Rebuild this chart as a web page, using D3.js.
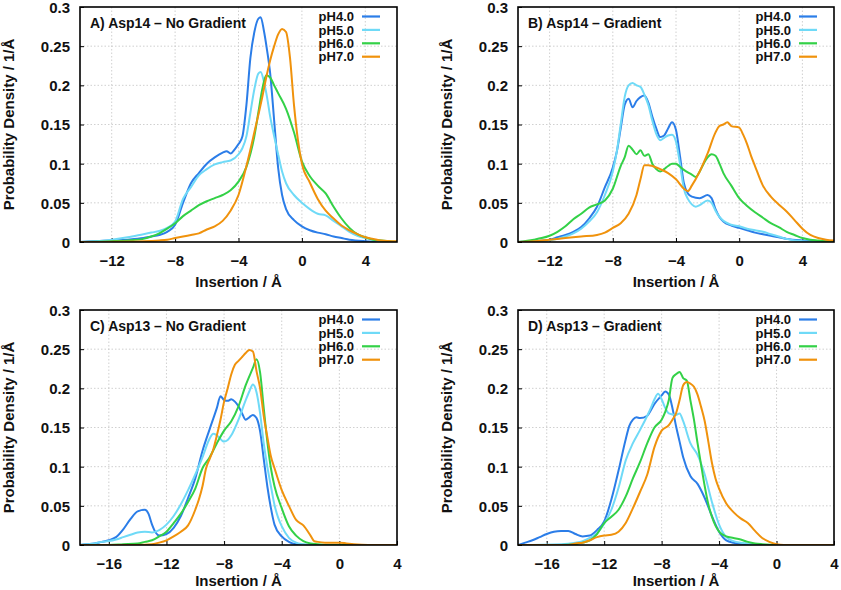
<!DOCTYPE html>
<html>
<head>
<meta charset="utf-8">
<script src="https://cdn.jsdelivr.net/npm/d3@7/dist/d3.min.js"></script>
<style>
  html, body { margin: 0; padding: 0; background: #fff; }
  svg { display: block; }
  text { font-family: "Liberation Sans", Arial, Helvetica, sans-serif; font-weight: bold; fill: #111; }
</style>
</head>
<body>
<svg id="chart" width="841" height="590"></svg>
<script>
// ---------------- DATA ----------------
const seriesNames = ["pH4.0", "pH5.0", "pH6.0", "pH7.0"];
const seriesColors = ["#2b7de8", "#6fdaf7", "#33d147", "#f0920c"];
const panelTitles = ["A) Asp14 \u2013 No Gradient", "B) Asp14 \u2013 Gradient", "C) Asp13 \u2013 No Gradient", "D) Asp13 \u2013 Gradient"];
const yTicks = [0, 0.05, 0.1, 0.15, 0.2, 0.25, 0.3];
const yTickLabels = ["0", "0.05", "0.1", "0.15", "0.2", "0.25", "0.3"];
const xTicksTop = [-12, -8, -4, 0, 4];
const xTicksBottom = [-16, -12, -8, -4, 0, 4];
const xDomainTop = [-14, 6];
const xDomainBottom = [-18, 4];
const yDomain = [0, 0.3];
const xLabel = "Insertion / \u00C5";
const yLabel = "Probability Density / 1/\u00C5";

// Panel A: Asp14 - No Gradient
const A_pH4 = [[-14,0],[-13,0.001],[-12,0.002],[-11,0.003],[-10,0.005],[-9.5,0.007],[-9,0.009],[-8.5,0.013],[-8,0.022],[-7.5,0.05],[-7,0.075],[-6.5,0.088],[-6,0.1],[-5.5,0.108],[-5,0.114],[-4.75,0.116],[-4.5,0.113],[-4.25,0.118],[-4,0.125],[-3.75,0.135],[-3.5,0.175],[-3.25,0.235],[-3,0.268],[-2.75,0.285],[-2.6,0.287],[-2.4,0.27],[-2.2,0.245],[-2,0.215],[-1.75,0.155],[-1.5,0.095],[-1.25,0.06],[-1,0.042],[-0.5,0.028],[0,0.02],[0.5,0.015],[1,0.012],[1.5,0.01],[2,0.007],[2.5,0.005],[3,0.003],[4,0.001],[5,0],[6,0]];
const A_pH5 = [[-14,0],[-13,0.001],[-12,0.003],[-11,0.006],[-10,0.01],[-9.5,0.012],[-9,0.014],[-8.5,0.018],[-8,0.026],[-7.5,0.055],[-7,0.07],[-6.5,0.085],[-6,0.093],[-5.5,0.099],[-5,0.102],[-4.5,0.104],[-4,0.112],[-3.75,0.12],[-3.5,0.135],[-3.25,0.165],[-3,0.195],[-2.75,0.215],[-2.6,0.217],[-2.4,0.205],[-2.2,0.185],[-2,0.16],[-1.75,0.135],[-1.5,0.112],[-1.25,0.09],[-1,0.075],[-0.5,0.06],[0,0.05],[0.5,0.042],[1,0.036],[1.5,0.034],[2,0.027],[2.5,0.02],[3,0.013],[3.5,0.008],[4,0.005],[5,0.001],[6,0]];
const A_pH6 = [[-14,0],[-12,0.001],[-11,0.002],[-10,0.004],[-9.5,0.007],[-9,0.011],[-8.5,0.017],[-8,0.024],[-7.5,0.033],[-7,0.04],[-6.5,0.047],[-6,0.052],[-5.5,0.056],[-5,0.06],[-4.5,0.066],[-4,0.077],[-3.5,0.096],[-3,0.135],[-2.75,0.165],[-2.5,0.195],[-2.25,0.213],[-2,0.21],[-1.75,0.2],[-1.5,0.19],[-1,0.17],[-0.5,0.14],[0,0.103],[0.5,0.084],[1,0.072],[1.5,0.062],[2,0.045],[2.5,0.03],[3,0.018],[3.5,0.01],[4,0.006],[4.5,0.003],[5,0.002],[6,0]];
const A_pH7 = [[-14,0],[-10,0.001],[-9,0.002],[-8.5,0.003],[-8,0.005],[-7.5,0.007],[-7,0.009],[-6.5,0.011],[-6,0.016],[-5.5,0.02],[-5,0.027],[-4.5,0.04],[-4,0.06],[-3.5,0.097],[-3,0.14],[-2.5,0.185],[-2.25,0.21],[-2,0.232],[-1.75,0.25],[-1.5,0.265],[-1.25,0.272],[-1,0.268],[-0.75,0.235],[-0.5,0.175],[-0.25,0.13],[0,0.1],[0.5,0.076],[1,0.055],[1.5,0.04],[2,0.03],[2.5,0.021],[3,0.015],[3.5,0.01],[4,0.006],[4.5,0.004],[5,0.002],[6,0.001]];

// Panel B: Asp14 - Gradient
const B_pH4 = [[-14,0],[-13,0.001],[-12,0.003],[-11.5,0.006],[-11,0.009],[-10.5,0.013],[-10,0.019],[-9.5,0.03],[-9,0.045],[-8.5,0.07],[-8,0.095],[-7.75,0.115],[-7.5,0.145],[-7.25,0.175],[-7,0.183],[-6.75,0.172],[-6.5,0.18],[-6.25,0.185],[-6,0.187],[-5.75,0.178],[-5.5,0.16],[-5.25,0.145],[-5,0.134],[-4.75,0.136],[-4.5,0.145],[-4.25,0.153],[-4,0.143],[-3.75,0.11],[-3.5,0.075],[-3.25,0.062],[-3,0.058],[-2.5,0.056],[-2,0.06],[-1.75,0.056],[-1.5,0.042],[-1.25,0.032],[-1,0.026],[-0.5,0.021],[0,0.018],[0.5,0.015],[1,0.012],[1.5,0.01],[2,0.008],[2.5,0.006],[3,0.004],[4,0.002],[5,0.001],[6,0]];
const B_pH5 = [[-14,0],[-13,0.001],[-12,0.002],[-11.5,0.004],[-11,0.007],[-10.5,0.011],[-10,0.017],[-9.5,0.026],[-9,0.038],[-8.5,0.06],[-8,0.09],[-7.75,0.115],[-7.5,0.15],[-7.25,0.185],[-7,0.2],[-6.75,0.203],[-6.5,0.2],[-6.25,0.198],[-6,0.188],[-5.75,0.175],[-5.5,0.155],[-5.25,0.138],[-5,0.13],[-4.75,0.133],[-4.5,0.136],[-4.25,0.137],[-4,0.128],[-3.75,0.1],[-3.5,0.068],[-3.25,0.055],[-3,0.048],[-2.75,0.045],[-2.5,0.047],[-2,0.053],[-1.75,0.05],[-1.5,0.04],[-1.25,0.032],[-1,0.027],[-0.5,0.022],[0,0.02],[0.5,0.017],[1,0.015],[1.5,0.013],[2,0.01],[2.5,0.007],[3,0.004],[3.5,0.002],[4,0.001],[5,0],[6,0]];
const B_pH6 = [[-14,0],[-13,0.003],[-12.5,0.005],[-12,0.008],[-11.5,0.013],[-11,0.02],[-10.5,0.029],[-10,0.036],[-9.5,0.044],[-9,0.048],[-8.5,0.053],[-8,0.068],[-7.5,0.097],[-7.25,0.108],[-7,0.123],[-6.75,0.118],[-6.5,0.112],[-6.25,0.117],[-6,0.11],[-5.75,0.112],[-5.5,0.1],[-5.25,0.093],[-5,0.09],[-4.75,0.093],[-4.5,0.097],[-4.25,0.1],[-4,0.1],[-3.75,0.096],[-3.5,0.092],[-3,0.086],[-2.75,0.083],[-2.5,0.09],[-2.25,0.1],[-2,0.108],[-1.75,0.112],[-1.5,0.11],[-1.25,0.1],[-1,0.088],[-0.5,0.072],[0,0.056],[0.5,0.046],[1,0.038],[1.5,0.031],[2,0.024],[2.5,0.019],[3,0.013],[3.5,0.009],[4,0.005],[4.5,0.003],[5,0.002],[6,0]];
const B_pH7 = [[-14,0],[-13,0.001],[-12,0.003],[-11,0.005],[-10,0.007],[-9,0.009],[-8.5,0.012],[-8,0.018],[-7.5,0.024],[-7,0.036],[-6.5,0.06],[-6.25,0.08],[-6,0.098],[-5.75,0.098],[-5.5,0.097],[-5,0.093],[-4.5,0.088],[-4,0.08],[-3.5,0.068],[-3.25,0.065],[-3,0.072],[-2.5,0.09],[-2,0.113],[-1.5,0.14],[-1.25,0.148],[-1,0.15],[-0.75,0.153],[-0.5,0.148],[0,0.146],[0.25,0.137],[0.5,0.125],[0.75,0.11],[1,0.097],[1.5,0.072],[2,0.058],[2.5,0.048],[3,0.039],[3.5,0.028],[4,0.017],[4.5,0.009],[5,0.005],[5.5,0.003],[6,0.002]];

// Panel C: Asp13 - No Gradient
const C_pH4 = [[-18,0],[-17.5,0.001],[-17,0.002],[-16.5,0.004],[-16,0.006],[-15.5,0.01],[-15,0.02],[-14.5,0.033],[-14,0.043],[-13.5,0.045],[-13.25,0.04],[-13,0.026],[-12.75,0.016],[-12.5,0.012],[-12,0.014],[-11.5,0.022],[-11,0.037],[-10.5,0.06],[-10,0.085],[-9.5,0.12],[-9,0.148],[-8.5,0.175],[-8.25,0.19],[-8,0.185],[-7.75,0.184],[-7.5,0.186],[-7.25,0.183],[-7,0.177],[-6.75,0.168],[-6.5,0.16],[-6.25,0.163],[-6,0.166],[-5.75,0.162],[-5.5,0.145],[-5.25,0.11],[-5,0.075],[-4.75,0.047],[-4.5,0.026],[-4,0.011],[-3.5,0.004],[-3,0.001],[-2,0],[4,0]];
const C_pH5 = [[-18,0],[-17.5,0.001],[-17,0.002],[-16.5,0.004],[-16,0.005],[-15.5,0.007],[-15,0.01],[-14.5,0.013],[-14,0.016],[-13.5,0.017],[-13,0.016],[-12.5,0.019],[-12,0.026],[-11.5,0.037],[-11,0.052],[-10.5,0.07],[-10,0.09],[-9.5,0.112],[-9,0.136],[-8.75,0.142],[-8.5,0.14],[-8,0.132],[-7.75,0.134],[-7.5,0.14],[-7,0.16],[-6.5,0.185],[-6.25,0.196],[-6,0.205],[-5.75,0.195],[-5.5,0.168],[-5.25,0.13],[-5,0.1],[-4.75,0.075],[-4.5,0.051],[-4.25,0.035],[-4,0.024],[-3.5,0.009],[-3,0.003],[-2.5,0.001],[-2,0],[4,0]];
const C_pH6 = [[-18,0],[-16,0],[-15,0.001],[-14,0.002],[-13.5,0.004],[-13,0.006],[-12.5,0.011],[-12,0.017],[-11.5,0.028],[-11,0.04],[-10.5,0.055],[-10,0.072],[-9.5,0.098],[-9,0.112],[-8.5,0.13],[-8,0.146],[-7.5,0.158],[-7,0.177],[-6.5,0.204],[-6,0.226],[-5.75,0.237],[-5.5,0.22],[-5.25,0.175],[-5,0.132],[-4.75,0.098],[-4.5,0.075],[-4,0.047],[-3.5,0.024],[-3,0.012],[-2.5,0.005],[-2,0.002],[-1.5,0.001],[-1,0],[4,0]];
const C_pH7 = [[-18,0],[-14,0],[-13,0.001],[-12.5,0.003],[-12,0.006],[-11.5,0.011],[-11,0.017],[-10.5,0.025],[-10,0.045],[-9.75,0.058],[-9.5,0.075],[-9.25,0.098],[-9,0.11],[-8.75,0.122],[-8.5,0.14],[-8.25,0.16],[-8,0.183],[-7.75,0.2],[-7.5,0.218],[-7.25,0.23],[-7,0.235],[-6.75,0.24],[-6.5,0.245],[-6.25,0.249],[-6,0.247],[-5.75,0.222],[-5.5,0.2],[-5.25,0.165],[-5,0.138],[-4.75,0.113],[-4.5,0.098],[-4,0.07],[-3.5,0.05],[-3,0.032],[-2.5,0.025],[-2,0.012],[-1.75,0.005],[-1.5,0.004],[-1,0.003],[0,0.003],[0.5,0.002],[1,0.001],[2,0],[4,0]];

// Panel D: Asp13 - Gradient
const D_pH4 = [[-18,0],[-17.5,0.003],[-17,0.006],[-16.5,0.01],[-16,0.014],[-15.5,0.017],[-15,0.018],[-14.5,0.018],[-14,0.014],[-13.5,0.011],[-13,0.012],[-12.5,0.019],[-12,0.03],[-11.5,0.058],[-11,0.095],[-10.5,0.135],[-10.25,0.152],[-10,0.16],[-9.75,0.163],[-9.5,0.162],[-9,0.165],[-8.75,0.172],[-8.5,0.18],[-8,0.191],[-7.75,0.196],[-7.5,0.192],[-7.25,0.175],[-7,0.152],[-6.75,0.132],[-6.5,0.112],[-6,0.088],[-5.5,0.078],[-5,0.06],[-4.5,0.037],[-4,0.017],[-3.5,0.006],[-3,0.003],[-2,0.001],[-1,0],[4,0]];
const D_pH5 = [[-18,0],[-15,0.001],[-14,0.003],[-13.5,0.005],[-13,0.009],[-12.5,0.015],[-12,0.027],[-11.5,0.045],[-11,0.073],[-10.5,0.108],[-10,0.13],[-9.5,0.147],[-9,0.165],[-8.75,0.175],[-8.5,0.186],[-8.25,0.193],[-8,0.186],[-7.75,0.175],[-7.5,0.168],[-7,0.166],[-6.75,0.168],[-6.5,0.158],[-6,0.13],[-5.5,0.115],[-5,0.09],[-4.5,0.055],[-4,0.026],[-3.5,0.01],[-3,0.005],[-2.5,0.003],[-2,0.002],[-1,0],[4,0]];
const D_pH6 = [[-18,0],[-15,0],[-14,0.001],[-13.5,0.003],[-13,0.006],[-12.5,0.014],[-12,0.028],[-11.5,0.036],[-11,0.045],[-10.5,0.062],[-10,0.085],[-9.5,0.106],[-9,0.13],[-8.5,0.15],[-8,0.16],[-7.75,0.17],[-7.5,0.185],[-7.25,0.213],[-7,0.218],[-6.75,0.221],[-6.5,0.213],[-6.25,0.21],[-6,0.185],[-5.75,0.16],[-5.5,0.13],[-5.25,0.102],[-5,0.075],[-4.75,0.052],[-4.5,0.036],[-4,0.017],[-3.5,0.011],[-3,0.009],[-2.5,0.007],[-2,0.004],[-1.5,0.002],[-1,0.001],[0,0],[4,0]];
const D_pH7 = [[-18,0],[-14.5,0],[-14,0.002],[-13.5,0.003],[-13,0.006],[-12.5,0.01],[-12,0.012],[-11.5,0.013],[-11,0.017],[-10.5,0.028],[-10,0.047],[-9.5,0.068],[-9,0.09],[-8.5,0.125],[-8,0.146],[-7.5,0.153],[-7.25,0.16],[-7,0.168],[-6.75,0.185],[-6.5,0.204],[-6.25,0.208],[-6,0.206],[-5.75,0.202],[-5.5,0.192],[-5.25,0.176],[-5,0.158],[-4.75,0.132],[-4.5,0.105],[-4.25,0.085],[-4,0.072],[-3.5,0.053],[-3,0.042],[-2.5,0.034],[-2,0.028],[-1.5,0.018],[-1,0.009],[-0.5,0.004],[0,0.001],[0.5,0],[4,0]];

// ---------------- LAYOUT ----------------
const panels = [
  { title: panelTitles[0], series: [A_pH4, A_pH5, A_pH6, A_pH7], xDomain: xDomainTop, xTicks: xTicksTop, left: 80, right: 397, top: 7, bottom: 242, xlabY: 287 },
  { title: panelTitles[1], series: [B_pH4, B_pH5, B_pH6, B_pH7], xDomain: xDomainTop, xTicks: xTicksTop, left: 518, right: 834, top: 7, bottom: 242, xlabY: 287 },
  { title: panelTitles[2], series: [C_pH4, C_pH5, C_pH6, C_pH7], xDomain: xDomainBottom, xTicks: xTicksBottom, left: 80, right: 397, top: 310, bottom: 545, xlabY: 586 },
  { title: panelTitles[3], series: [D_pH4, D_pH5, D_pH6, D_pH7], xDomain: xDomainBottom, xTicks: xTicksBottom, left: 518, right: 834, top: 310, bottom: 545, xlabY: 586 }
];

const svg = d3.select("#chart");
const fmtX = d => (d < 0 ? "\u2212" + Math.abs(d) : String(d));

panels.forEach((p, pi) => {
  const x = d3.scaleLinear().domain(p.xDomain).range([p.left, p.right]);
  const y = d3.scaleLinear().domain(yDomain).range([p.bottom, p.top]);
  const g = svg.append("g");
  const clipId = "clip" + pi;
  g.append("clipPath").attr("id", clipId).append("rect")
    .attr("x", p.left).attr("y", p.top).attr("width", p.right - p.left).attr("height", p.bottom - p.top);

  // grid
  const grid = g.append("g");
  grid.selectAll("line.gy").data(yTicks.slice(1, -1)).join("line")
    .attr("x1", p.left).attr("x2", p.right)
    .attr("y1", d => y(d)).attr("y2", d => y(d))
    .attr("stroke", "#c4c4c4").attr("stroke-width", 0.8).attr("stroke-dasharray", "1.5,2");
  grid.selectAll("line.gx").data(p.xTicks.filter(d => x(d) > p.left + 1 && x(d) < p.right - 1)).join("line")
    .attr("x1", d => x(d)).attr("x2", d => x(d))
    .attr("y1", p.top).attr("y2", p.bottom)
    .attr("stroke", "#c4c4c4").attr("stroke-width", 0.8).attr("stroke-dasharray", "1.5,2");

  // axes via d3-axis (ticks inward, labels outside)
  const yAxis = d3.axisLeft(y).tickValues(yTicks).tickFormat((d, i) => yTickLabels[i]).tickSize(-4).tickPadding(10);
  const ya = g.append("g").attr("transform", `translate(${p.left},0)`).call(yAxis);
  const xAxis = d3.axisBottom(x).tickValues(p.xTicks).tickFormat(fmtX).tickSize(-4).tickPadding(10);
  const xa = g.append("g").attr("transform", `translate(0,${p.bottom})`).call(xAxis);
  [ya, xa].forEach(a => {
    a.select(".domain").remove();
    a.selectAll("line").attr("stroke", "#000").attr("stroke-width", 1);
    a.selectAll("text").attr("font-size", 15).attr("font-weight", "bold")
      .attr("font-family", '"Liberation Sans", Arial, sans-serif').attr("fill", "#111");
  });
  ya.selectAll("text").attr("dy", "0.36em");
  xa.selectAll("text").attr("dy", "0.95em");

  // curves
  const line = d3.line().x(d => x(d[0])).y(d => y(d[1])).curve(d3.curveMonotoneX);
  const cg = g.append("g").attr("clip-path", `url(#${clipId})`);
  p.series.forEach((s, si) => {
    cg.append("path").datum(s).attr("d", line)
      .attr("fill", "none").attr("stroke", seriesColors[si]).attr("stroke-width", 2)
      .attr("stroke-linejoin", "round");
  });

  // frame
  g.append("rect").attr("x", p.left).attr("y", p.top)
    .attr("width", p.right - p.left).attr("height", p.bottom - p.top)
    .attr("fill", "none").attr("stroke", "#000").attr("stroke-width", 1.6);

  // title
  g.append("text").attr("x", p.left + 10).attr("y", p.top + 21)
    .attr("font-size", 14).text(p.title);

  // legend
  const lg = g.append("g");
  seriesNames.forEach((n, si) => {
    const ly = p.top + 9.5 + si * 13.4;
    lg.append("text").attr("x", p.right - 43).attr("y", ly).attr("dy", "0.36em")
      .attr("text-anchor", "end").attr("font-size", 13).text(n);
    lg.append("line").attr("x1", p.right - 35).attr("x2", p.right - 17)
      .attr("y1", ly).attr("y2", ly).attr("stroke", seriesColors[si]).attr("stroke-width", 2.2);
  });

  // axis labels
  g.append("text").attr("x", (p.left + p.right) / 2).attr("y", p.xlabY)
    .attr("text-anchor", "middle").attr("font-size", 15).text(xLabel);
  const cy = (p.top + p.bottom) / 2;
  g.append("text").attr("transform", `translate(${p.left - 66},${cy}) rotate(-90)`)
    .attr("text-anchor", "middle").attr("font-size", 15).text(yLabel);
});
</script>
</body>
</html>
